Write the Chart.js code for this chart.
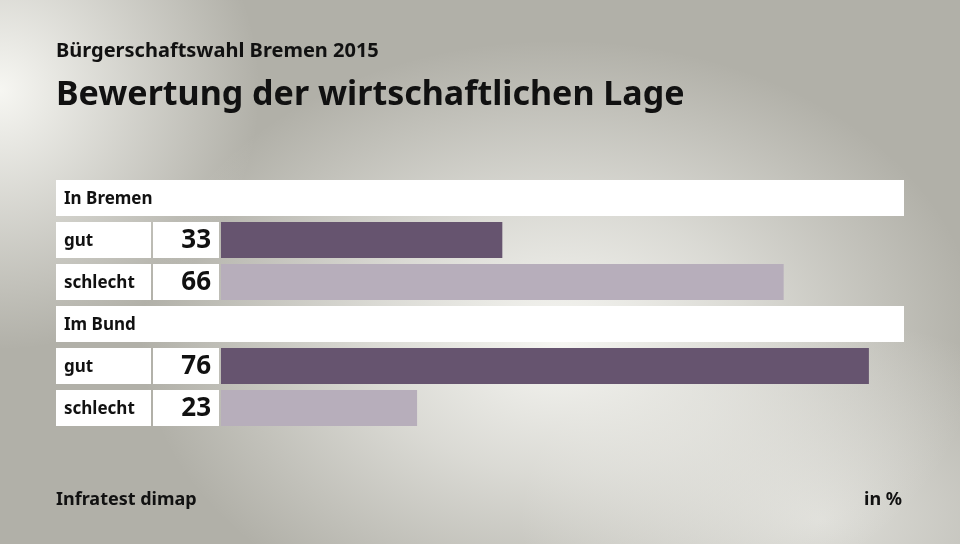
<!DOCTYPE html>
<html>
<head>
<meta charset="utf-8">
<script src="https://cdn.jsdelivr.net/npm/chart.js@4"></script>
<style>
  html, body { margin: 0; padding: 0; }
  body {
    width: 960px; height: 544px; overflow: hidden;
    background:
      radial-gradient(ellipse 420px 300px at 560px 340px, rgba(246,246,242,1) 0%, rgba(246,246,242,0.6) 45%, rgba(246,246,242,0) 100%),
      radial-gradient(ellipse 260px 260px at 0px 90px, rgba(250,250,246,0.95) 0%, rgba(250,250,246,0) 100%),
      radial-gradient(ellipse 300px 200px at 820px 520px, rgba(240,240,236,0.7) 0%, rgba(240,240,236,0) 100%),
      #b1b0a8;
  }
  #wrap { position: relative; width: 960px; height: 544px; }
</style>
</head>
<body>
<div id="wrap"><canvas id="chart" width="960" height="544"></canvas></div>
<script>
const groups = ['In Bremen', 'Im Bund'];
const answers = ['gut', 'schlecht'];
const values = [[33, 66], [76, 23]];
const answerColors = ['#66546f', '#b7aebb'];

const fontFam = '"Noto Sans", "Open Sans", sans-serif';

// one row per group header, then one per answer
const rowLabels = [];
const rowValues = [];
const rowColors = [];
const rowIsHeader = [];
groups.forEach((g, gi) => {
    rowLabels.push(g); rowValues.push(null); rowColors.push('rgba(0,0,0,0)'); rowIsHeader.push(true);
    answers.forEach((a, ai) => {
        rowLabels.push(a); rowValues.push(values[gi][ai]); rowColors.push(answerColors[ai]); rowIsHeader.push(false);
    });
});

const boxes = {
    id: 'boxes',
    beforeDatasetsDraw(chart) {
        const ctx = chart.ctx;
        const area = chart.chartArea;
        const y = chart.scales.y;
        const h = 36;
        ctx.save();
        ctx.fillStyle = '#ffffff';
        rowLabels.forEach((lab, i) => {
            const cy = y.getPixelForValue(i);
            if (rowIsHeader[i]) {
                ctx.fillRect(56, cy - h / 2, area.right - 56 + 1, h);
            } else {
                ctx.fillRect(56, cy - h / 2, 95, h);
                ctx.fillRect(153, cy - h / 2, 66, h);
            }
        });
        ctx.restore();
    },
    afterDatasetsDraw(chart) {
        const ctx = chart.ctx;
        const y = chart.scales.y;
        ctx.save();
        ctx.fillStyle = '#111111';
        ctx.textBaseline = 'middle';
        rowLabels.forEach((lab, i) => {
            const cy = y.getPixelForValue(i);
            ctx.textAlign = 'left';
            ctx.font = 'bold 17px ' + fontFam;
            ctx.fillText(lab, 64, cy + 1);
            if (!rowIsHeader[i]) {
                ctx.textAlign = 'right';
                ctx.font = 'bold 26px ' + fontFam;
                ctx.fillText(String(rowValues[i]), 211, cy + 1);
            }
        });
        // titles and footer
        ctx.textBaseline = 'alphabetic';
        ctx.textAlign = 'left';
        ctx.font = 'bold 20px ' + fontFam;
        ctx.fillText('Bürgerschaftswahl Bremen 2015', 56, 57);
        ctx.font = 'bold 34px ' + fontFam;
        ctx.fillText('Bewertung der wirtschaftlichen Lage', 56, 105);
        ctx.font = 'bold 18px ' + fontFam;
        ctx.fillText('Infratest dimap', 56, 505);
        ctx.textAlign = 'right';
        ctx.fillText('in %', 902, 505);
        ctx.restore();
    }
};

let chart;
const ctx = document.getElementById('chart').getContext('2d');
chart = new Chart(ctx, {
    type: 'bar',
    data: {
        labels: rowLabels,
        datasets: [{
            data: rowValues,
            backgroundColor: rowColors,
            borderWidth: 0,
            barPercentage: 36 / 42,
            categoryPercentage: 1
        }]
    },
    options: {
        indexAxis: 'y',
        responsive: false,
        animation: false,
        layout: { padding: { left: 221, right: 57, top: 177, bottom: 115 } },
        plugins: { legend: { display: false }, tooltip: { enabled: false } },
        scales: {
            x: { display: false, min: 0, max: 80 },
            y: { display: false }
        }
    },
    plugins: [boxes]
});
</script>
</body>
</html>
